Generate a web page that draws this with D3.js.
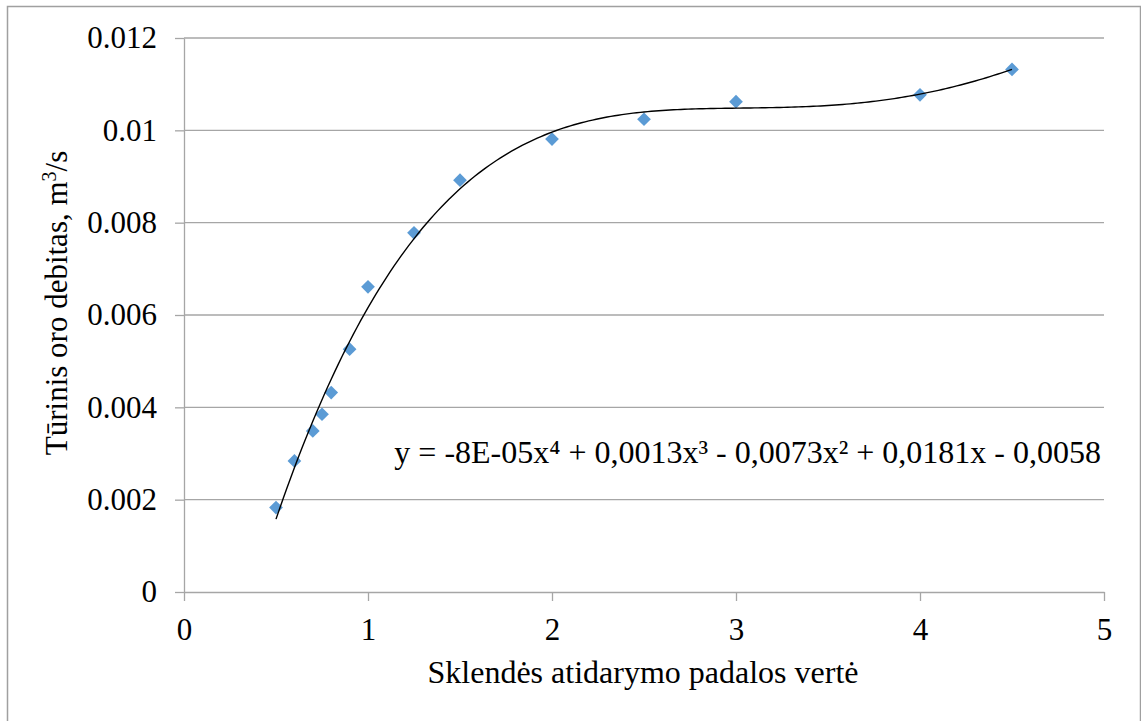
<!DOCTYPE html>
<html>
<head>
<meta charset="utf-8">
<script src="https://cdn.jsdelivr.net/npm/d3@7"></script>
</head>
<body style="margin:0; background:#fff">
<div id="chart"></div>
<script>
// Data
const xValues = [0.5, 0.6, 0.7, 0.75, 0.8, 0.9, 1.0, 1.25, 1.5, 2.0, 2.5, 3.0, 4.0, 4.5];
const yValues = [0.00183, 0.00284, 0.00349, 0.00385, 0.00432, 0.00526, 0.00661, 0.00778, 0.00892, 0.00981, 0.01024, 0.01062, 0.01077, 0.01132];
const xTicks = [0, 1, 2, 3, 4, 5];
const yTicks = [0, 0.002, 0.004, 0.006, 0.008, 0.01, 0.012];
const xTitle = "Sklendės atidarymo padalos vertė";
const yTitle = "Tūrinis oro debitas, m";
const equation = "y = -8E-05x⁴ + 0,0013x³ - 0,0073x² + 0,0181x - 0,0058";

const FONT = "Liberation Serif";
const W = 1141, H = 721;
const margin = { top: 38, right: 37, bottom: 129, left: 184 };
const width = W - margin.left - margin.right;
const height = H - margin.top - margin.bottom;

const svg = d3.select("#chart")
    .append("svg")
    .attr("width", W)
    .attr("height", H);

// Outer chart border
svg.append("rect")
    .attr("x", 7.5).attr("y", 6.5)
    .attr("width", 1133).attr("height", 730)
    .attr("fill", "none")
    .attr("stroke", "#a0a0a0")
    .attr("stroke-width", 1.5);

const g = svg.append("g")
    .attr("transform", `translate(${margin.left},${margin.top})`);

const xScale = d3.scaleLinear().domain([0, 5]).range([0, width]);
const yScale = d3.scaleLinear().domain([0, 0.012]).range([height, 0]);

// Gridlines
g.selectAll(".grid")
    .data(yTicks.slice(1))
    .enter()
    .append("line")
    .attr("x1", 0).attr("x2", width)
    .attr("y1", d => yScale(d)).attr("y2", d => yScale(d))
    .attr("stroke", "#a6a6a6")
    .attr("stroke-width", 1.3);

// Axes
const xAxis = d3.axisBottom(xScale).tickValues(xTicks).tickSize(9).tickSizeOuter(0).tickPadding(17)
    .tickFormat(d3.format("d"));
const yAxis = d3.axisLeft(yScale).tickValues(yTicks).tickSize(9).tickSizeOuter(0).tickPadding(18)
    .tickFormat(d => d === 0 ? "0" : String(+d.toFixed(3)));

const xg = g.append("g")
    .attr("transform", `translate(0,${height})`)
    .call(xAxis);
const yg = g.append("g").call(yAxis);

[xg, yg].forEach(a => {
    a.attr("font-family", null);
    a.select(".domain").attr("stroke", "#a6a6a6").attr("stroke-width", 1.3);
    a.selectAll(".tick line").attr("stroke", "#a6a6a6").attr("stroke-width", 1.3);
    a.selectAll(".tick text")
        .style("font-family", FONT, "important")
        .style("font-size", "31px")
        .style("fill", "#000");
});

// Polynomial trend line (least squares, order 4)
function polyFit(xs, ys, order) {
    const n = order + 1;
    const A = Array.from({ length: n }, () => new Array(n + 1).fill(0));
    for (let i = 0; i < xs.length; i++) {
        for (let r = 0; r < n; r++) {
            for (let c = 0; c < n; c++) A[r][c] += Math.pow(xs[i], r + c);
            A[r][n] += ys[i] * Math.pow(xs[i], r);
        }
    }
    for (let p = 0; p < n; p++) {
        let max = p;
        for (let r = p + 1; r < n; r++) if (Math.abs(A[r][p]) > Math.abs(A[max][p])) max = r;
        [A[p], A[max]] = [A[max], A[p]];
        for (let r = p + 1; r < n; r++) {
            const f = A[r][p] / A[p][p];
            for (let c = p; c <= n; c++) A[r][c] -= f * A[p][c];
        }
    }
    const coef = new Array(n).fill(0);
    for (let r = n - 1; r >= 0; r--) {
        let s = A[r][n];
        for (let c = r + 1; c < n; c++) s -= A[r][c] * coef[c];
        coef[r] = s / A[r][r];
    }
    return coef;
}

const coef = polyFit(xValues, yValues, 4);
const evalPoly = x => coef.reduce((s, c, i) => s + c * Math.pow(x, i), 0);
const xMin = d3.min(xValues), xMax = d3.max(xValues);
const trend = d3.range(0, 201).map(i => {
    const x = xMin + (xMax - xMin) * i / 200;
    return [x, evalPoly(x)];
});

// Points
g.selectAll(".pt")
    .data(xValues.map((x, i) => [x, yValues[i]]))
    .enter()
    .append("path")
    .attr("class", "pt")
    .attr("d", d3.symbol().type(d3.symbolDiamond2).size(120))
    .attr("transform", d => `translate(${xScale(d[0])},${yScale(d[1])})`)
    .attr("fill", "#5b9bd5");

g.append("path")
    .datum(trend)
    .attr("fill", "none")
    .attr("stroke", "#000")
    .attr("stroke-width", 1.4)
    .attr("d", d3.line().x(d => xScale(d[0])).y(d => yScale(d[1])));

// Equation label
g.append("text")
    .attr("x", width - 3)
    .attr("y", 425)
    .attr("text-anchor", "end")
    .style("font-family", FONT, "important")
    .style("font-size", "32px")
    .text(equation);

// Axis titles
svg.append("text")
    .attr("x", 643)
    .attr("y", 683)
    .attr("text-anchor", "middle")
    .style("font-family", FONT, "important")
    .style("font-size", "32px")
    .text(xTitle);

const yt = svg.append("text")
    .attr("transform", "translate(67,303) rotate(-90)")
    .attr("text-anchor", "middle")
    .style("font-family", FONT, "important")
    .style("font-size", "31px");
yt.append("tspan").style("font-family", FONT, "important").text(yTitle);
yt.append("tspan").attr("dy", -11).style("font-family", FONT, "important").style("font-size", "20px").text("3");
yt.append("tspan").attr("dy", 11).style("font-family", FONT, "important").text("/s");
</script>
</body>
</html>
